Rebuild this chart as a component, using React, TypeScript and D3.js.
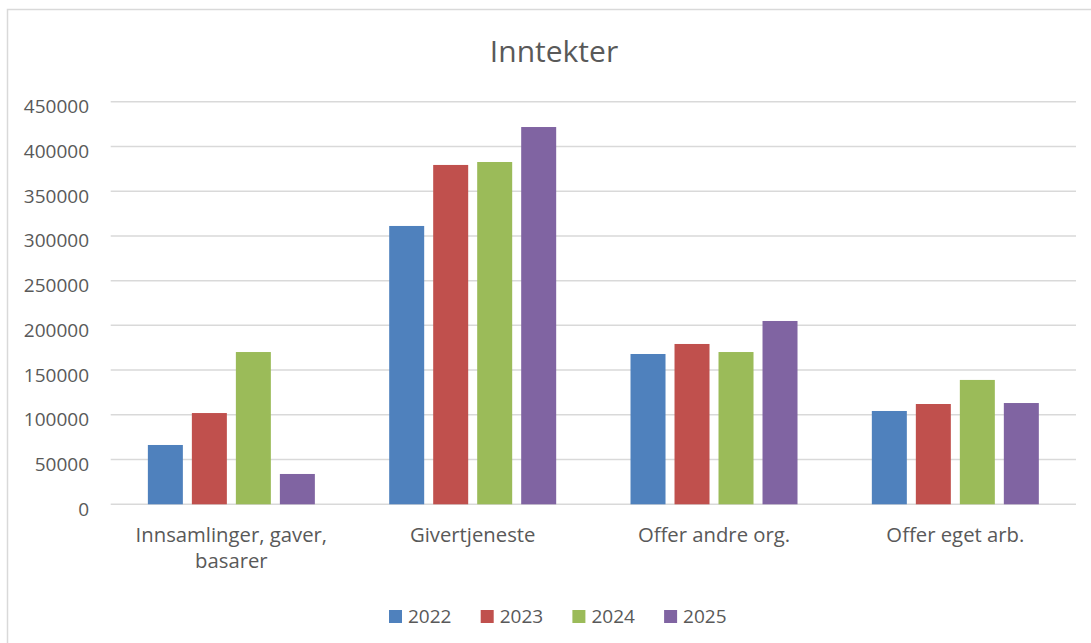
import * as d3 from "d3";
import React from "react";

const categories = ["Innsamlinger, gaver, basarer", "Givertjeneste", "Offer andre org.", "Offer eget arb."];
const years = ["2022", "2023", "2024", "2025"];
const values2022 = [66300, 311100, 168000, 104300];
const values2023 = [102000, 379300, 179200, 112100];
const values2024 = [170200, 382600, 170200, 139000];
const values2025 = [33900, 421700, 204900, 113200];
const yTicks = [0, 50000, 100000, 150000, 200000, 250000, 300000, 350000, 400000, 450000];
const COLORS = ["#4F81BD", "#C0504D", "#9BBB59", "#8064A2"];

const App: React.FC = (): React.ReactElement => {
  const ref = React.useRef<SVGSVGElement>(null);

  React.useEffect(() => {
    const svg = d3.select(ref.current);
    svg.selectAll("*").remove();

    const font = "'Open Sans', 'Noto Sans', sans-serif";
    const textColor = "#595959";
    const margin = { left: 110.7, right: 1076, top: 101.7, bottom: 504.3 };

    svg
      .append("rect")
      .attr("x", 7.5)
      .attr("y", 9.5)
      .attr("width", 1200)
      .attr("height", 800)
      .attr("fill", "#fff")
      .attr("stroke", "#D9D9D9")
      .attr("stroke-width", 1.5);

    svg
      .append("text")
      .attr("x", 554)
      .attr("y", 62.3)
      .attr("text-anchor", "middle")
      .attr("font-family", font)
      .attr("font-size", 30)
      .attr("fill", textColor)
      .text("Inntekter");

    const y = d3.scaleLinear().domain([0, 450000]).range([margin.bottom, margin.top]);
    const x0 = d3.scaleBand().domain(categories).range([margin.left, margin.right]).padding(0);
    const groupW = 167;
    const x1 = d3
      .scaleBand()
      .domain(years)
      .range([(x0.bandwidth() - groupW) / 2, (x0.bandwidth() + groupW) / 2])
      .paddingInner(9 / 44)
      .paddingOuter(0);

    svg
      .append("g")
      .selectAll("line")
      .data(yTicks)
      .enter()
      .append("line")
      .attr("x1", margin.left)
      .attr("x2", margin.right)
      .attr("y1", (d) => y(d))
      .attr("y2", (d) => y(d))
      .attr("stroke", "#D9D9D9")
      .attr("stroke-width", 1.5);

    svg
      .append("g")
      .selectAll("text")
      .data(yTicks)
      .enter()
      .append("text")
      .attr("x", 89)
      .attr("y", (d) => y(d) + 11.4)
      .attr("text-anchor", "end")
      .attr("font-family", font)
      .attr("font-size", 19)
      .attr("fill", textColor)
      .text((d) => String(d));

    const series = [values2022, values2023, values2024, values2025];
    const groups = svg
      .append("g")
      .selectAll("g")
      .data(categories)
      .enter()
      .append("g")
      .attr("transform", (d) => `translate(${x0(d)},0)`);

    groups
      .selectAll("rect")
      .data((_, ci) => years.map((yr, si) => ({ yr, v: series[si][ci], si })))
      .enter()
      .append("rect")
      .attr("x", (d) => x1(d.yr) as number)
      .attr("width", x1.bandwidth())
      .attr("y", (d) => y(d.v))
      .attr("height", (d) => y(0) - y(d.v))
      .attr("fill", (d) => COLORS[d.si]);

    // category labels, wrapped like the original
    const catLines: { [k: string]: string[] } = {
      "Innsamlinger, gaver, basarer": ["Innsamlinger, gaver,", "basarer"],
    };
    const labels = svg
      .append("g")
      .selectAll("text")
      .data(categories)
      .enter()
      .append("text")
      .attr("x", (d) => (x0(d) as number) + x0.bandwidth() / 2)
      .attr("y", 541.7)
      .attr("text-anchor", "middle")
      .attr("font-family", font)
      .attr("font-size", 20.3)
      .attr("fill", textColor);
    labels
      .selectAll("tspan")
      .data((d) => catLines[d] || [d])
      .enter()
      .append("tspan")
      .attr("x", function () {
        return (this as any).parentNode.getAttribute("x");
      })
      .attr("dy", (_, i) => (i === 0 ? 0 : 26.5))
      .text((d) => d);

    const legend = svg
      .append("g")
      .selectAll("g")
      .data(years)
      .enter()
      .append("g")
      .attr("transform", (_, i) => `translate(${389 + i * 91.7},610)`);
    legend
      .append("rect")
      .attr("width", 13)
      .attr("height", 13)
      .attr("fill", (_, i) => COLORS[i]);
    legend
      .append("text")
      .attr("x", 19)
      .attr("y", 13)
      .attr("font-family", font)
      .attr("font-size", 19)
      .attr("fill", textColor)
      .text((d) => d);
  }, []);

  return (
    <svg
      ref={ref}
      width={1091}
      height={643}
      style={{ position: "absolute", left: 0, top: 0, background: "#fff" }}
    />
  );
};

export default App;
